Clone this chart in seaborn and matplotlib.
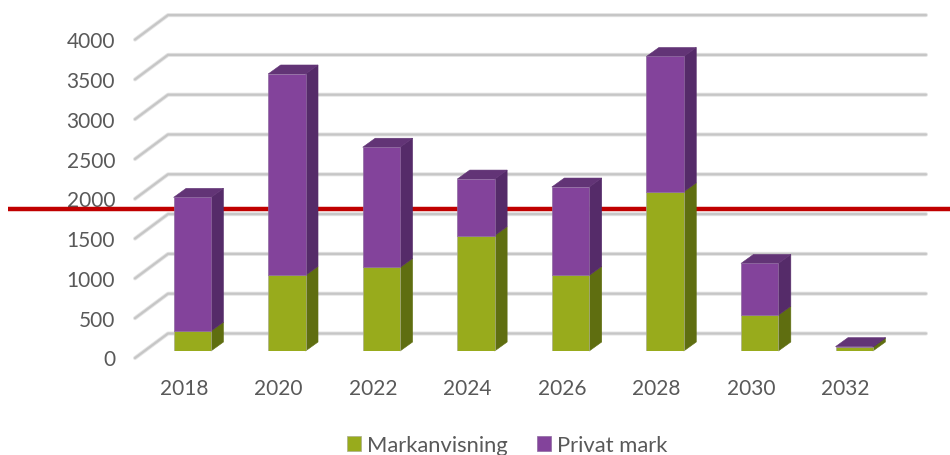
import matplotlib
matplotlib.use('Agg')
import matplotlib.pyplot as plt
import seaborn as sns
from matplotlib.lines import Line2D
from matplotlib.patches import Polygon
from matplotlib.transforms import IdentityTransform, ScaledTranslation, blended_transform_factory

# --- DATA ---
years = ['2018', '2020', '2022', '2024', '2026', '2028', '2030', '2032']
markanvisning = [250, 950, 1050, 1450, 950, 2000, 450, 50]
privat_mark = [1680, 2530, 1510, 710, 1110, 1700, 650, 5]
y_ticks = [0, 500, 1000, 1500, 2000, 2500, 3000, 3500, 4000]
red_level = 1785

# --- STYLE ---
GREEN, GREEN_SIDE = '#98ab1c', '#5f6e10'
PURPLE, PURPLE_SIDE, PURPLE_TOP = '#83439b', '#552b69', '#623476'
TEXT = '#595959'
BAR_DX, BAR_DY = 12.5, 9      # depth of one bar, px
WALL_DX, WALL_DY = 33, 24.5   # depth of the chart floor, px
W, H = 950, 456

sns.set_theme(style='white')
plt.rcParams['font.family'] = ['Lato', 'DejaVu Sans']

fig = plt.figure(figsize=(W / 100, H / 100), dpi=100)
ax = fig.add_axes([145 / W, (H - 352) / H, 756.5 / W, 318.4 / H])
ax.patch.set_visible(False)

sns.barplot(x=years, y=markanvisning, color=GREEN, saturation=1, width=0.395, ax=ax,
            label='Markanvisning', edgecolor='#a9ad8c', linewidth=0.5, zorder=4)
n_green = len(ax.patches)
sns.barplot(x=years, y=privat_mark, bottom=markanvisning, color=PURPLE, saturation=1, width=0.395, ax=ax,
            label='Privat mark', edgecolor='#8f6aa0', linewidth=0.5, zorder=4)

ax.set_xlim(-0.5, 7.5)
ax.set_ylim(0, 4000)
ax.set_yticks(y_ticks)
ax.set_xlabel('')
ax.set_ylabel('')
ax.set_axisbelow(True)
sns.despine(ax=ax, left=True, bottom=True)
ax.tick_params(axis='x', length=0, labelsize=15, labelcolor=TEXT, pad=19.5)
ax.tick_params(axis='y', length=0, labelsize=15, labelcolor=TEXT, pad=21.5)

# tick labels sit on the front edge of the floor, not under the bars
for lab in ax.get_xticklabels():
    lab.set_transform(lab.get_transform() + ScaledTranslation(-8.5 / 100, 0, fig.dpi_scale_trans))
for lab in ax.get_yticklabels():
    lab.set_transform(lab.get_transform() + ScaledTranslation(0, -6.5 / 100, fig.dpi_scale_trans))

pixels = IdentityTransform()


def add_face(points, color, z):
    ax.add_patch(Polygon(points, closed=True, facecolor=color, edgecolor=color, linewidth=0.4,
                         transform=pixels, clip_on=False, zorder=z))


# --- FLOOR AND GRID ---
for v in y_ticks:
    y0 = ax.transData.transform((0, v))[1] - 7
    pts_x = [135, 135 + WALL_DX, 926]
    pts_y = [y0, y0 + WALL_DY, y0 + WALL_DY]
    for lw, col in [(2.9, '#e4e4e4'), (1.6, '#c6c6c6')]:
        ax.add_line(Line2D(pts_x, pts_y, color=col, lw=lw, transform=pixels, clip_on=False,
                           solid_capstyle='round', solid_joinstyle='round', zorder=1))

# --- RED LINE ---
ax.plot([8, W], [red_level, red_level], color='#c00000', lw=3.2, clip_on=False, zorder=2,
        solid_capstyle='butt', transform=blended_transform_factory(pixels, ax.transData))

# --- BAR DEPTH ---
for i, bar in enumerate(ax.patches[:2 * len(years)]):
    x0, y0 = ax.transData.transform((bar.get_x(), bar.get_y()))
    x1, y1 = ax.transData.transform((bar.get_x() + bar.get_width(), bar.get_y() + bar.get_height()))
    side = GREEN_SIDE if i < n_green else PURPLE_SIDE
    add_face([(x1, y0), (x1 + BAR_DX, y0 + BAR_DY), (x1 + BAR_DX, y1 + BAR_DY), (x1, y1)], side, 3)
    if i >= n_green:
        add_face([(x0, y1), (x1, y1), (x1 + BAR_DX, y1 + BAR_DY), (x0 + BAR_DX, y1 + BAR_DY)], PURPLE_TOP, 3)

ax.legend(loc='lower left', bbox_to_anchor=(347 / W, 0), bbox_transform=fig.transFigure, ncol=2,
          frameon=False, fontsize=15.8, labelcolor=TEXT, handlelength=0.64, handleheight=0.64,
          handletextpad=0.27, columnspacing=1.35, borderpad=0, borderaxespad=0)

fig.savefig('out.png', dpi=100)
